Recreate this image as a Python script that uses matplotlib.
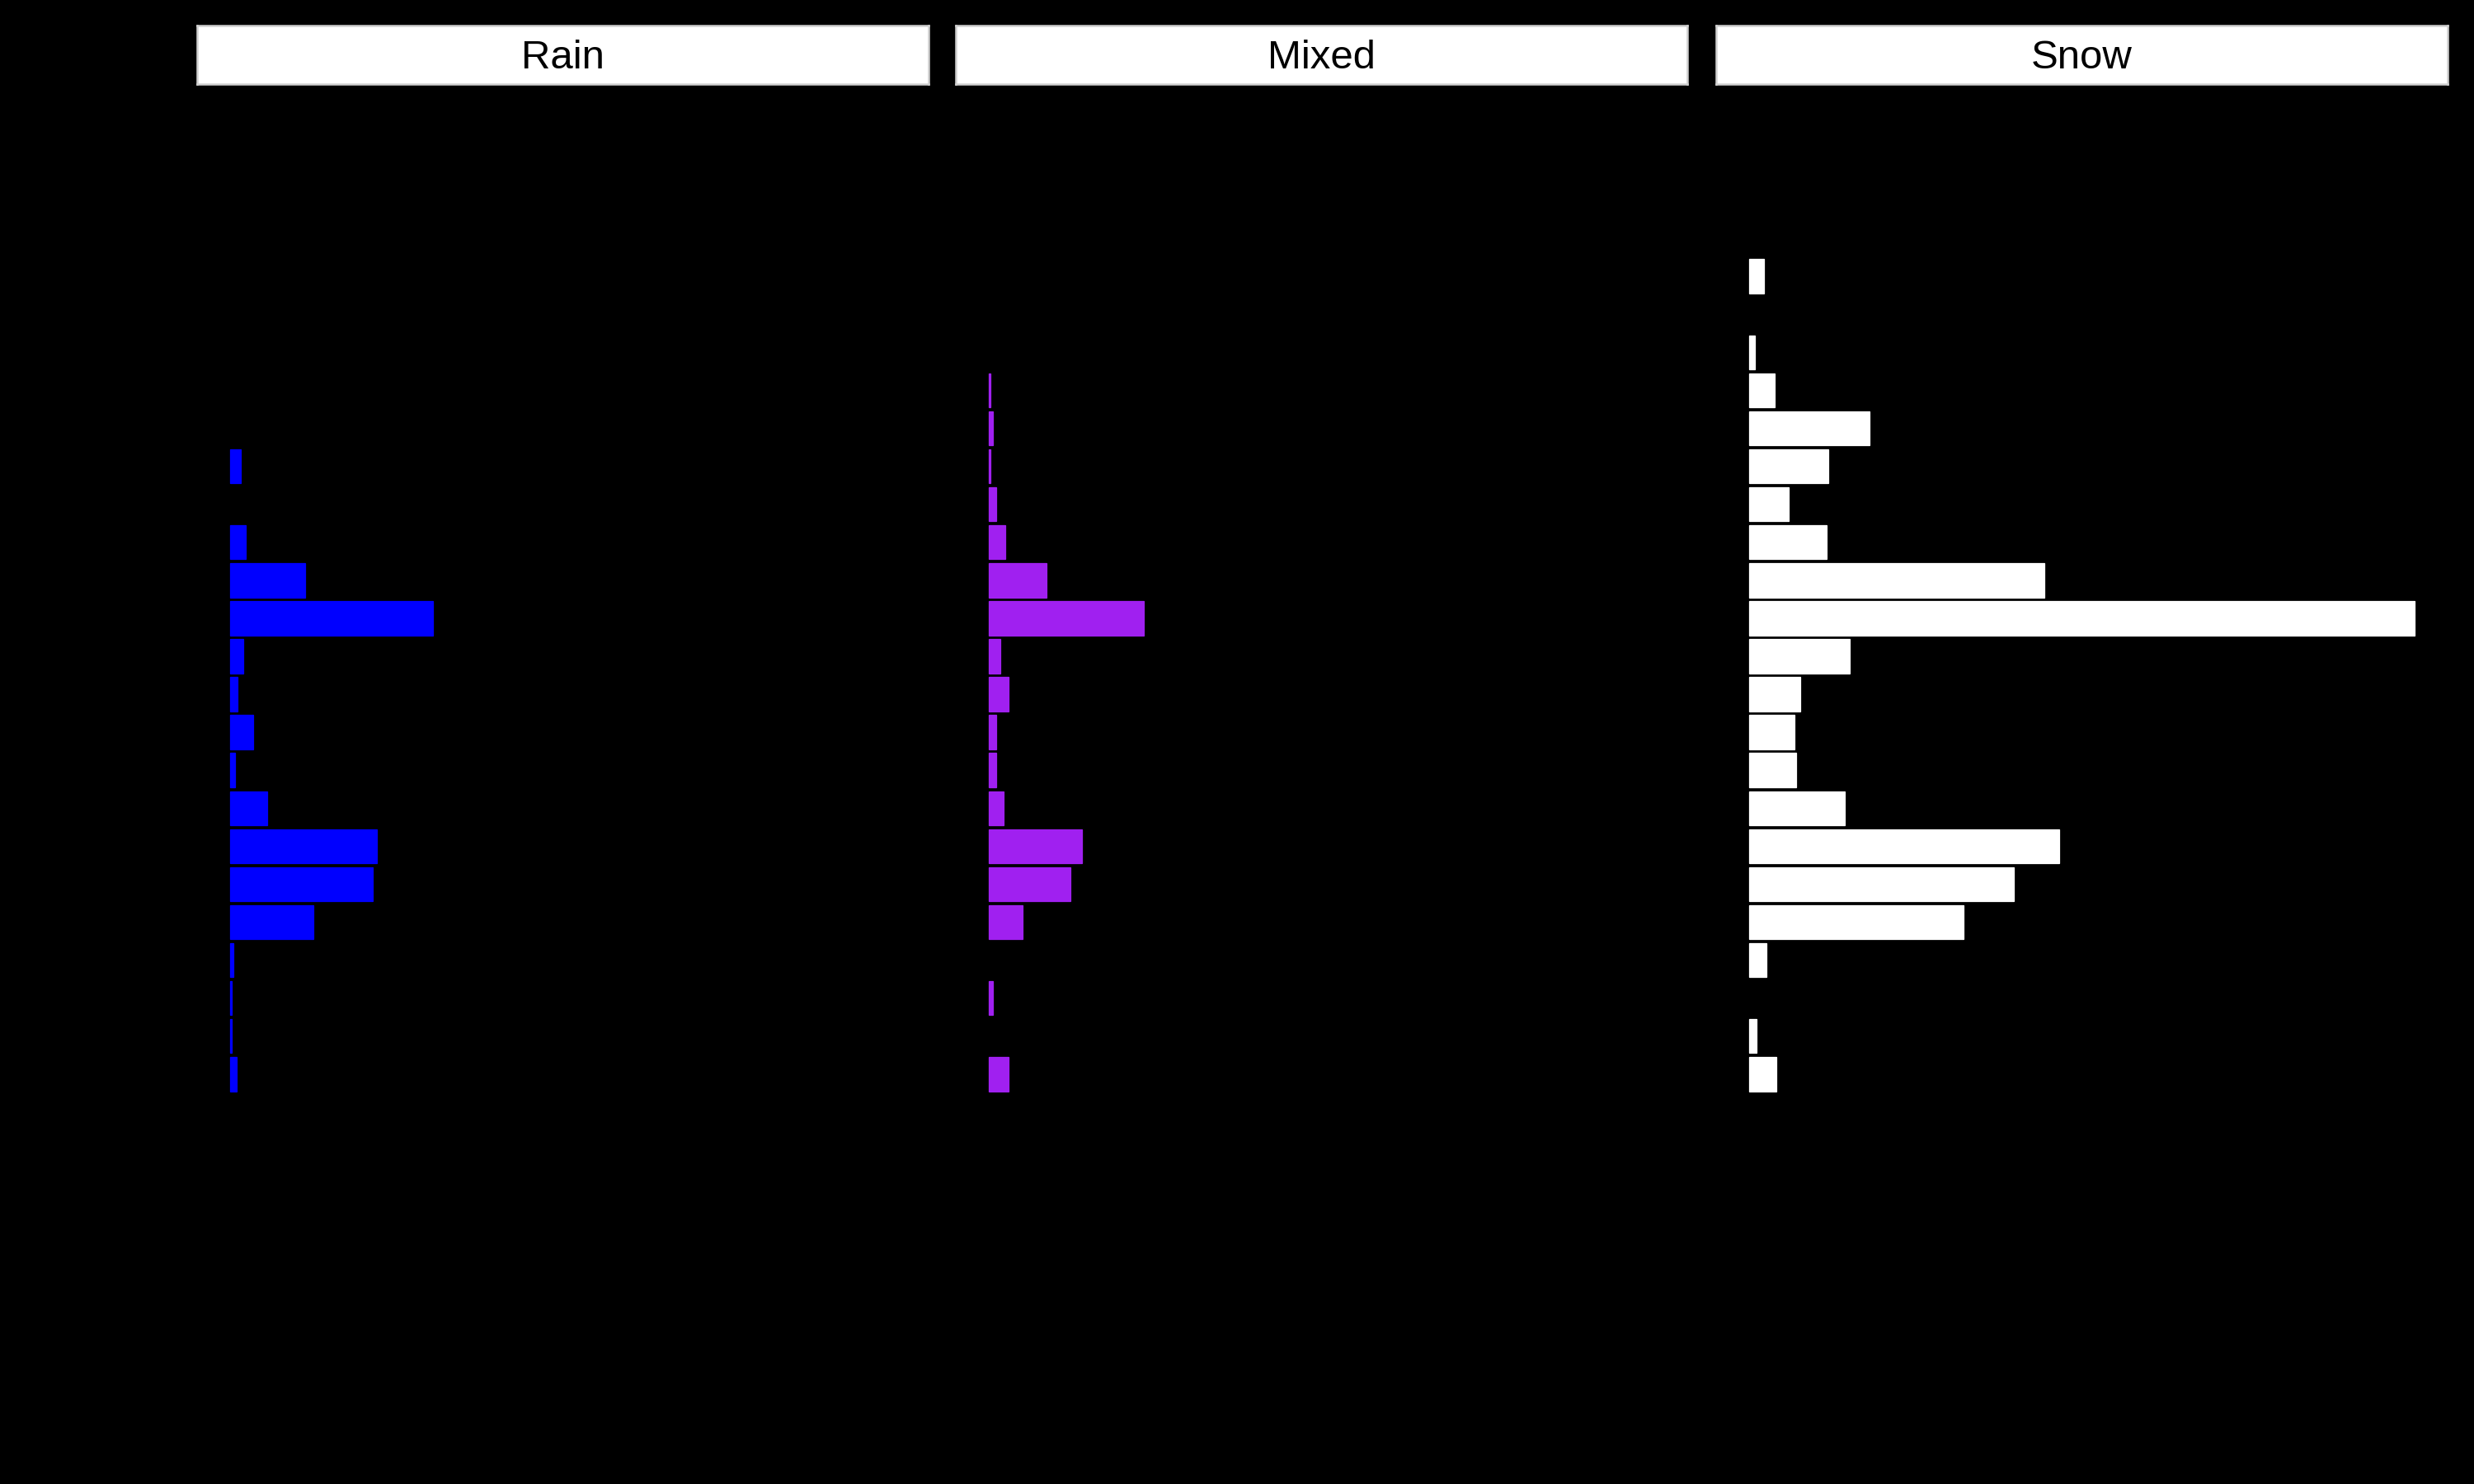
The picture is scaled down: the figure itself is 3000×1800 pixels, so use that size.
import numpy as np
import matplotlib
matplotlib.use("Agg")
import matplotlib.pyplot as plt

plt.rcParams['font.family'] = ['Liberation Sans', 'DejaVu Sans']

# y categories, top to bottom (labels are drawn black on black, as in the original)
levels = [str(i) for i in range(1, 23)]

facets = ["Rain", "Mixed", "Snow"]
colors = ["#0000FF", "#A020F0", "#FFFFFF"]

# counts per category index (0 = top row)
rain_idx = [5, 7, 8, 9, 10, 11, 12, 13, 14, 15, 16, 17, 18, 19, 20, 21]
rain_val = [13, 20, 95, 257, 16, 9, 29, 6, 47, 186, 180, 105, 4, 2, 2, 8]

mixed_idx = [3, 4, 5, 6, 7, 8, 9, 10, 11, 12, 13, 14, 15, 16, 17, 19, 21]
mixed_val = [2, 5, 2, 9, 21, 73, 196, 14, 25, 9, 9, 18, 118, 103, 43, 5, 25]

snow_idx = [0, 2, 3, 4, 5, 6, 7, 8, 9, 10, 11, 12, 13, 14, 15, 16, 17, 18, 20, 21]
snow_val = [18, 7, 32, 152, 100, 50, 98, 373, 842, 127, 64, 57, 59, 121, 392, 335, 271, 22, 9, 34]

data = {"Rain": (rain_idx, rain_val),
        "Mixed": (mixed_idx, mixed_val),
        "Snow": (snow_idx, snow_val)}

W, H = 3000, 1800
fig = plt.figure(figsize=(10, 6), dpi=300, facecolor="black")

lefts = [239, 1159, 2081]
pw = 887
strip_top, panel_top, panel_bot = 31, 102, 1536

xmax = max(max(v) for _, v in data.values())
pad = 5.06

for name, col, lx in zip(facets, colors, lefts):
    ax = fig.add_axes([lx / W, 1 - panel_bot / H, pw / W, (panel_bot - panel_top) / H])
    ax.set_facecolor("black")
    idx, val = data[name]
    ax.barh(idx, val, height=0.9, color=col, edgecolor=col, linewidth=0.3)
    ax.set_xlim(-0.05 * xmax, 1.05 * xmax)
    ax.set_ylim(len(levels) - 1 + pad, -pad)
    ax.set_yticks(range(len(levels)))
    ax.set_yticklabels(levels if name == "Rain" else [])
    ax.tick_params(colors="black", labelcolor="black", labelsize=8)
    for s in ax.spines.values():
        s.set_visible(False)

    sax = fig.add_axes([lx / W, 1 - panel_top / H, pw / W, (panel_top - strip_top) / H])
    sax.set_facecolor("white")
    sax.set_xticks([])
    sax.set_yticks([])
    for s in sax.spines.values():
        s.set_edgecolor("#d0d0d0")
        s.set_linewidth(0.6)
    sax.text(0.5, 0.44, name, ha="center", va="center", fontsize=11.8, color="black",
             transform=sax.transAxes)

fig.text(239 / W + 0.5 * (2968 - 239) / W, 0.03, "count", ha="center", color="black", fontsize=10)
fig.text(0.012, 1 - ((panel_top + panel_bot) / 2) / H, "category", va="center",
         rotation=90, color="black", fontsize=10)

fig.savefig("out.png", dpi=300, facecolor="black")
